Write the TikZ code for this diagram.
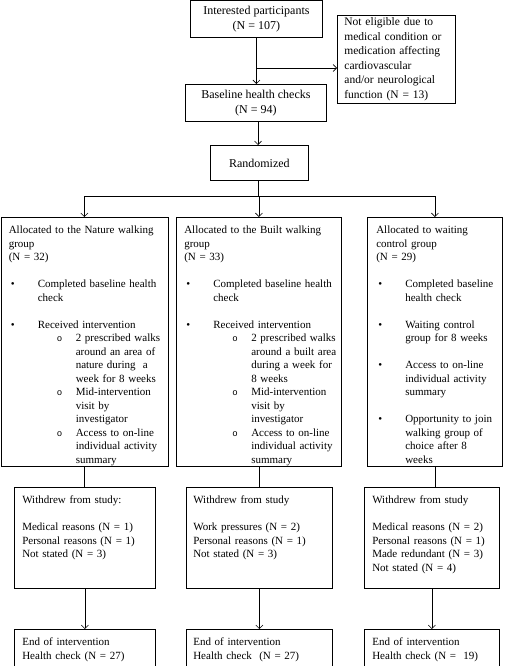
\documentclass[tikz,border=0pt]{standalone}
\usepackage{fontspec}
\setmainfont{Liberation Serif}
\newfontfamily\subfont{Liberation Mono}
\usetikzlibrary{positioning, arrows.meta, calc}

% bullets and hanging indents, one line at a time
\newcommand{\itembul}{\makebox[29pt][l]{\hspace{2pt}\textbullet}}
\newcommand{\itemind}{\hspace*{29pt}}
\newcommand{\subbul}{\hspace*{48pt}\makebox[19pt][l]{\subfont\small o}}
\newcommand{\subind}{\hspace*{67pt}}

\tikzset{
  box/.style={draw, line width=0.8pt, inner sep=0pt, anchor=north west,
    align=center, font=\fontsize{12}{15}\selectfont},
  txt/.style={anchor=north west, inner sep=0pt, align=left, text width=#1,
    font=\fontsize{11}{13.5}\selectfont},
  txt/.default=150pt
}

\begin{document}
\begin{tikzpicture}[x=1pt, y=-1pt, line width=0.6pt,
    >={Straight Barb[length=3.5pt, width=7pt]}]
  \useasboundingbox (0,0) rectangle (505,666);

  % screening
  \node[box, minimum width=132pt, minimum height=37pt] (intr) at (190,0.5)
    {Interested participants\\(N = 107)};
  \node[box, minimum width=118pt, minimum height=88pt, align=left, text width=104pt,
    font=\fontsize{11.5}{14.5}\selectfont] (nelig) at (337,15)
    {Not eligible due to\\medical condition or\\medication affecting\\cardiovascular\\and/or neurological\\function (N = 13)};
  \node[box, minimum width=141pt, minimum height=37pt] (base) at (185,84)
    {Baseline health checks\\(N = 94)};
  \node[box, minimum width=98pt, minimum height=35pt] (rand) at (210,145)
    {Randomized};

  % allocation
  \node[box, minimum width=167pt, minimum height=249pt] (nat) at (0.5,217) {};
  \node[box, minimum width=165pt, minimum height=249pt] (blt) at (176,217) {};
  \node[box, minimum width=135pt, minimum height=249pt] (wait) at (367,217) {};

  \node[txt=158pt] (natT) at ([xshift=8pt, yshift=-9pt]nat.north west)
    {Allocated to the Nature walking\\group\\(N = 32)\\[13.5pt]
     \itembul Completed baseline health\\\itemind check\\[13.5pt]
     \itembul Received intervention\\
     \subbul 2 prescribed walks\\\subind around an area of\\\subind nature during\ \ a\\\subind week for 8 weeks\\
     \subbul Mid-intervention\\\subind visit by\\\subind investigator\\
     \subbul Access to on-line\\\subind individual activity\\\subind summary};
  \node[txt=156pt] (bltT) at ([xshift=8pt, yshift=-9pt]blt.north west)
    {Allocated to the Built walking\\group\\(N = 33)\\[13.5pt]
     \itembul Completed baseline health\\\itemind check\\[13.5pt]
     \itembul Received intervention\\
     \subbul 2 prescribed walks\\\subind around a built area\\\subind during a week for\\\subind 8 weeks\\
     \subbul Mid-intervention\\\subind visit by\\\subind investigator\\
     \subbul Access to on-line\\\subind individual activity\\\subind summary};
  \node[txt=126pt] (waitT) at ([xshift=9pt, yshift=-9pt]wait.north west)
    {Allocated to waiting\\control group\\(N = 29)\\[13.5pt]
     \itembul Completed baseline\\\itemind health check\\[13.5pt]
     \itembul Waiting control\\\itemind group for 8 weeks\\[13.5pt]
     \itembul Access to on-line\\\itemind individual activity\\\itemind summary\\[13.5pt]
     \itembul Opportunity to join\\\itemind walking group of\\\itemind choice after 8\\\itemind weeks};

  % withdrawals
  \node[box, minimum width=141pt, minimum height=101pt] (wdN) at (14,487) {};
  \node[box, minimum width=146pt, minimum height=101pt] (wdB) at (186,487) {};
  \node[box, minimum width=135pt, minimum height=101pt] (wdW) at (364,487) {};
  \node[txt=132pt] (wdNT) at ([xshift=8pt, yshift=-8.5pt]wdN.north west)
    {Withdrew from study:\\[13.5pt]Medical reasons (N = 1)\\Personal reasons (N = 1)\\Not stated (N = 3)};
  \node[txt=137pt] (wdBT) at ([xshift=7pt, yshift=-8.5pt]wdB.north west)
    {Withdrew from study\\[13.5pt]Work pressures (N = 2)\\Personal reasons (N = 1)\\Not stated (N = 3)};
  \node[txt=126pt] (wdWT) at ([xshift=8pt, yshift=-8.5pt]wdW.north west)
    {Withdrew from study\\[13.5pt]Medical reasons (N = 2)\\Personal reasons (N = 1)\\Made redundant (N = 3)\\Not stated (N = 4)};

  % end of intervention
  \node[box, minimum width=141pt, minimum height=36.5pt] (endN) at (14,629) {};
  \node[box, minimum width=146pt, minimum height=36.5pt] (endB) at (186,629) {};
  \node[box, minimum width=135pt, minimum height=36.5pt] (endW) at (364,629) {};
  \node[txt=132pt] (endNT) at ([xshift=8pt, yshift=-8.5pt]endN.north west)
    {End of intervention\\Health check (N = 27)};
  \node[txt=137pt] (endBT) at ([xshift=7pt, yshift=-8.5pt]endB.north west)
    {End of intervention\\Health check\ \ (N = 27)};
  \node[txt=126pt] (endWT) at ([xshift=8pt, yshift=-8.5pt]endW.north west)
    {End of intervention\\Health check (N =\ \ 19)};

  % connectors
  \coordinate (brk) at (256,68);
  \coordinate (split) at (258,196);
  \draw[->] (intr.south) -- (intr.south |- base.north);
  \draw[->] (brk) -- (brk -| nelig.west);
  \draw[->] (base.south -| split) -- (rand.north -| split);
  \draw (rand.south -| split) -- (split);
  \draw (split -| nat.north) -- (split -| wait.north);
  \foreach \g in {nat, blt, wait}
    \draw[->] (split -| \g.north) -- (\g.north);
  \foreach \g/\w in {nat/wdN, blt/wdB, wait/wdW}
    \draw (\g.south) -- (\g.south |- \w.north);
  \foreach \w/\e in {wdN/endN, wdB/endB, wdW/endW}
    \draw[->] (\w.south) -- (\e.north);
\end{tikzpicture}
\end{document}
